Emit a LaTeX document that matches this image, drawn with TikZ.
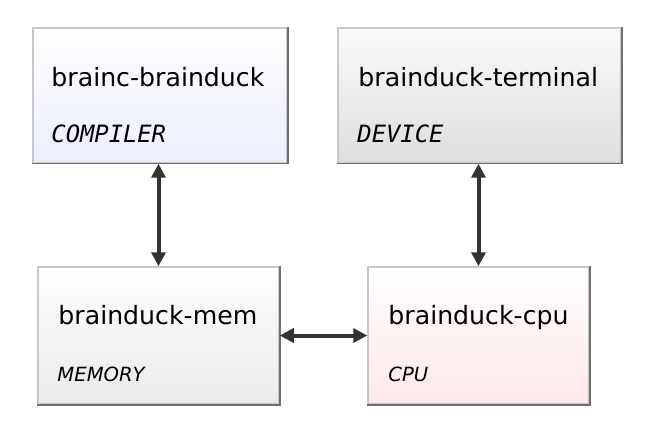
\documentclass[tikz,border=0pt]{standalone}
\usepackage{fontspec}
\setmainfont{DejaVu Sans}
\newfontfamily\monofont{DejaVu Sans Mono}
\usetikzlibrary{arrows.meta,calc}
\definecolor{edgelight}{RGB}{200,200,200}
\definecolor{edgedark}{RGB}{112,112,112}
\definecolor{arrowcol}{RGB}{51,51,51}
\definecolor{lavender}{RGB}{236,238,252}
\definecolor{graybot}{RGB}{222,222,222}
\definecolor{membot}{RGB}{234,234,234}
\definecolor{pinkbot}{RGB}{252,232,232}
\tikzset{
  compbox/.style={rectangle, draw=edgelight, line width=1.5pt, inner sep=0pt},
  darkedge/.style={draw=edgedark, line width=1.5pt},
  titletext/.style={anchor=base west, inner sep=0pt, font=\fontsize{25.2}{30}\selectfont},
  monotext/.style={anchor=base west, inner sep=0pt, font=\monofont\itshape\fontsize{23.8}{28}\selectfont},
  sanstext/.style={anchor=base west, inner sep=0pt, font=\itshape\fontsize{19.6}{24}\selectfont},
  conn/.style={draw=arrowcol, line width=4pt, {Triangle[width=14pt,length=14pt]}-{Triangle[width=14pt,length=14pt]}, shorten <=0pt, shorten >=0pt}
}
\begin{document}
\begin{tikzpicture}[x=1pt,y=-1pt]
\useasboundingbox (0,0) rectangle (660,438);
\fill[white] (0,0) rectangle (660,438);

% boxes
\node[compbox, top color=white, bottom color=lavender, minimum width=254pt, minimum height=135pt] (comp) at (160,95.5) {};
\node[compbox, top color={rgb,255:red,250;green,250;blue,250}, bottom color=graybot, minimum width=283pt, minimum height=135pt] (term) at (479.5,95.5) {};
\node[compbox, top color=white, bottom color=membot, minimum width=241pt, minimum height=137pt] (mem) at (158.5,335.5) {};
\node[compbox, top color=white, bottom color=pinkbot, minimum width=221pt, minimum height=137pt] (cpu) at (478.5,335.5) {};

% darker right/bottom edges
\foreach \b in {comp,term,mem,cpu}{
  \draw[darkedge] (\b.north east) -- (\b.south east) -- (\b.south west);
}

% texts
\node[titletext] (t1) at ($(comp.north west)+(19,59)$) {brainc-brainduck};
\node[monotext] (s1) at ($(comp.north west)+(19,115)$) {COMPILER};
\node[titletext] (t2) at ($(term.north west)+(21,59)$) {brainduck-terminal};
\node[monotext] (s2) at ($(term.north west)+(20,115)$) {DEVICE};
\node[titletext] (t3) at ($(mem.north west)+(21,58)$) {brainduck-mem};
\node[sanstext] (s3) at ($(mem.north west)+(20,115)$) {MEMORY};
\node[titletext] (t4) at ($(cpu.north west)+(21,58)$) {brainduck-cpu};
\node[sanstext] (s4) at ($(cpu.north west)+(21,115)$) {CPU};

% connectors
\draw[conn] (comp.south -| mem.north) -- (mem.north);
\draw[conn] (term.south -| cpu.north) -- (cpu.north);
\draw[conn] (mem.east) -- (cpu.west);
\end{tikzpicture}
\end{document}
